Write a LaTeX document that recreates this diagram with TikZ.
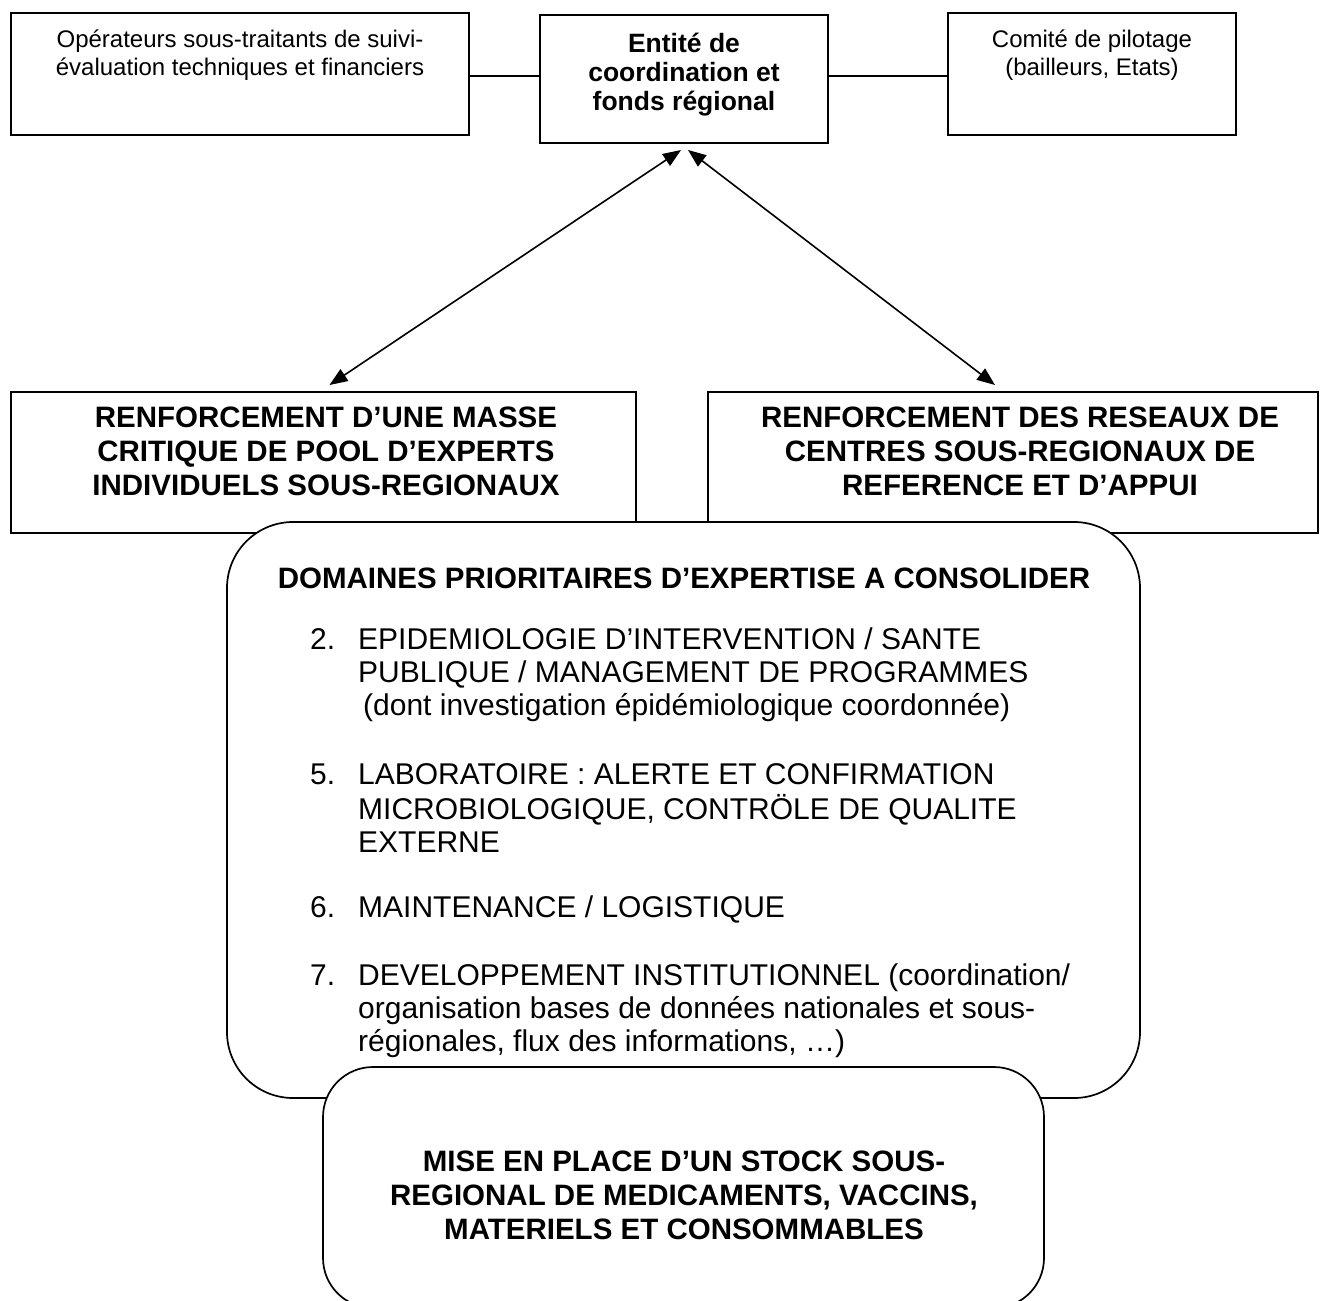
\documentclass[tikz,border=0pt]{standalone}
\usepackage{fontspec}
\setmainfont{Liberation Sans}
\usetikzlibrary{arrows.meta,calc}
\begin{document}
\begin{tikzpicture}[x=1pt,y=-1pt,
  box/.style={draw, line width=1.7pt, inner sep=0pt, outer sep=0pt},
  rbox/.style={box, fill=white, rounded corners=#1},
  link/.style={line width=1.5pt},
  biarrow/.style={line width=1.6pt, {Triangle[length=18pt,width=14pt]}-{Triangle[length=18pt,width=14pt]}},
  smalltxt/.style={inner sep=0pt, align=center, font=\fontsize{24}{27.5}\selectfont},
  smallbold/.style={inner sep=0pt, align=center, font=\fontsize{26.5}{29}\selectfont\bfseries},
  bigbold/.style={inner sep=0pt, align=center, font=\fontsize{29.5}{34}\selectfont\bfseries},
  itemtxt/.style={inner sep=0pt, anchor=north west, align=left, font=\fontsize{30}{33}\selectfont}
]
\useasboundingbox (0,0) rectangle (1320,1301);
\fill[white] (0,0) rectangle (1320,1301);

% top row
\node[box, minimum width=458pt, minimum height=122pt] (opL) at (240,74) {};
\node[box, minimum width=288pt, minimum height=128pt] (ent) at (684,79) {};
\node[box, minimum width=288pt, minimum height=122pt] (com) at (1092,74) {};
\node[smalltxt] (opLt) at (240,55) {Opérateurs sous-traitants de suivi-\\évaluation techniques et financiers};
\node[smallbold] (entt) at (684,75) {Entité de\\coordination et\\fonds régional};
\node[smalltxt] (comt) at (1092,55) {Comité de pilotage\\(bailleurs, Etats)};

\coordinate (lineY) at (0,76);
\draw[link] (opL.east |- lineY) -- (ent.west |- lineY);
\draw[link] (ent.east |- lineY) -- (com.west |- lineY);

% second row
\node[box, minimum width=625pt, minimum height=141pt] (rL) at (323.5,462.5) {};
\node[box, minimum width=610pt, minimum height=141pt] (rR) at (1013,462.5) {};
\node[bigbold] (rLt) at (326,451) {RENFORCEMENT D’UNE MASSE\\CRITIQUE DE POOL D’EXPERTS\\INDIVIDUELS SOUS-REGIONAUX};
\node[bigbold] (rRt) at (1020,451) {RENFORCEMENT DES RESEAUX DE\\CENTRES SOUS-REGIONAUX DE\\REFERENCE ET D’APPUI};

\draw[biarrow] ($(ent.south)+(-3,7)$) -- ($(rL.north)+(6,-7)$);
\draw[biarrow] ($(ent.south)+(4,7)$) -- ($(rR.north)+(-18,-7)$);

% domaines
\node[rbox=66pt, minimum width=913pt, minimum height=576pt] (dom) at (683.5,810) {};
\node[bigbold] (domt) at (684,578) {DOMAINES PRIORITAIRES D’EXPERTISE A CONSOLIDER};

\node[itemtxt] (t2) at (310,626) {\begin{tabular}{@{}p{48pt}@{}l@{}}2. & EPIDEMIOLOGIE D’INTERVENTION / SANTE\\ & PUBLIQUE / MANAGEMENT DE PROGRAMMES\\ & \,(dont investigation épidémiologique coordonnée)\end{tabular}};
\node[itemtxt] (t5) at (310,761) {\begin{tabular}{@{}p{48pt}@{}l@{}}5. & LABORATOIRE : ALERTE ET CONFIRMATION\\ & MICROBIOLOGIQUE, CONTRÖLE DE QUALITE\\ & EXTERNE\end{tabular}};
\node[itemtxt] (t6) at (310,894) {\begin{tabular}{@{}p{48pt}@{}l@{}}6. & MAINTENANCE / LOGISTIQUE\end{tabular}};
\node[itemtxt] (t7) at (310,962) {\begin{tabular}{@{}p{48pt}@{}l@{}}7. & DEVELOPPEMENT INSTITUTIONNEL (coordination/\\ & organisation bases de données nationales et sous-\\ & régionales, flux des informations, …)\end{tabular}};

% stock
\node[rbox=50pt, minimum width=721pt, minimum height=241pt] (stk) at (683.5,1187.5) {};
\node[bigbold] (stkt) at (684,1195) {MISE EN PLACE D’UN STOCK SOUS-\\REGIONAL DE MEDICAMENTS, VACCINS,\\MATERIELS ET CONSOMMABLES};
\end{tikzpicture}
\end{document}
